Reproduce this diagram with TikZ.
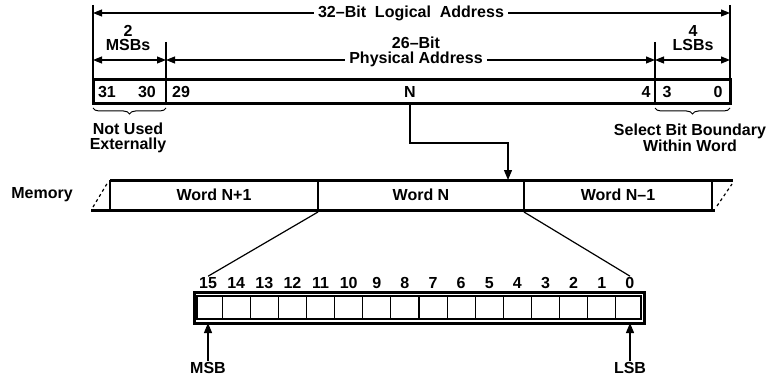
\documentclass[tikz,border=0pt]{standalone}
\usepackage{fontspec}
\setmainfont{Liberation Sans}
\usepackage{tikz}
\usetikzlibrary{positioning,calc,arrows.meta,decorations.pathreplacing}
\tikzstyle{lbl} = [font=\bfseries\fontsize{16}{14.5}\selectfont, inner sep=1pt, align=center]
\tikzstyle{heavy} = [line width=3pt]
\tikzstyle{connector} = [line width=1.2pt]
\tikzstyle{dimline} = [line width=1.1pt, {Triangle[length=9pt,width=7pt]}-{Triangle[length=9pt,width=7pt]}]
\tikzstyle{pointer} = [line width=1.2pt, -{Triangle[length=10pt,width=8pt]}]
\tikzstyle{brace} = [line width=1pt, decorate, decoration={brace, amplitude=6pt}]

\begin{document}
\begin{tikzpicture}[x=1pt, y=-1pt]
                \useasboundingbox (0,0) rectangle (781,385);

                \draw [heavy] (93,80) rectangle (730,104);
                \draw [connector] (93,5) -- (93,80);
                \draw [connector] (730,5) -- (730,80);
                \draw [connector] (166,42) -- (166,104);
                \draw [connector] (655,42) -- (655,104);

                \node (b31) [lbl] at (107,92) {31};
                \node (b30) [lbl] at (147,92) {30};
                \node (b29) [lbl] at (181,92) {29};
                \node (bN) [lbl] at (410,92) {N};
                \node (b4) [lbl] at (646,92) {4};
                \node (b3) [lbl] at (667,92) {3};
                \node (b0) [lbl] at (718,92) {0};

                \node (logical) [lbl, fill=white, inner xsep=4pt] at (411,13) {32\textendash Bit\ \ Logical\ \ Address};
                \coordinate (logL) at (93,13);
                \coordinate (logR) at (730,13);
                \draw [dimline, {Triangle[length=9pt,width=7pt]}-] (logL) -- (logical);
                \draw [dimline, -{Triangle[length=9pt,width=7pt]}] (logical) -- (logR);

                \node (msbs) [lbl] at (128,38) {2\\MSBs};
                \node (lsbs) [lbl] at (693,38) {4\\LSBs};
                \draw [dimline] (93,60) -- (166,60);
                \draw [dimline] (655,60) -- (730,60);

                \node (phys) [lbl, fill=white, inner xsep=4pt] at (416,52) {26\textendash Bit\\Physical Address};
                \coordinate (physL) at (166,60);
                \coordinate (physR) at (655,60);
                \draw [dimline, {Triangle[length=9pt,width=7pt]}-] (physL) -- (physL -| phys.west);
                \draw [dimline, -{Triangle[length=9pt,width=7pt]}] (physR -| phys.east) -- (physR);

                \draw [brace] (166,108) -- (93,108);
                \draw [brace] (730,108) -- (655,108);
                \node (unused) [lbl] at (128,138) {Not Used\\Externally};
                \node (select) [lbl] at (690,138) {Select Bit Boundary\\Within Word};

                \node (memory) [lbl] at (42,195) {Memory};
                \draw [heavy] (110,180) -- (733,180);
                \draw [heavy] (91,210) -- (715,210);
                \draw [connector, dashed] (93,207) -- (108,182);
                \draw [connector, dashed] (717,206) -- (732,184);
                \foreach \x in {110,318,524,712}
                    \draw [connector] (\x,180) -- (\x,210);
                \node (wordA) [lbl] at (214,195) {Word N+1};
                \node (wordB) [lbl] at (421,195) {Word N};
                \node (wordC) [lbl] at (618,195) {Word N\textendash 1};

                \coordinate (nOut) at (410,104);
                \coordinate (memIn) at (508,180);
                \draw [pointer] (nOut) -- ++(0,39) -| (memIn);

                \draw [heavy] (194,292) rectangle (644,323);
                \draw [connector] (197,296) rectangle (641,319);
                \foreach \i in {1,...,15}
                    \draw [connector] ({194+28.125*\i},296) -- ({194+28.125*\i},319);
                \foreach \b in {0,...,15}
                    \node (bit\b) [lbl] at ({194+28.125*(15.5-\b)},283) {\b};

                \draw [connector] (318,212) -- (bit15.north);
                \draw [connector] (524,212) -- (bit0.north);

                \node (msb) [lbl] at (208,368) {MSB};
                \node (lsb) [lbl] at (630,368) {LSB};
                \coordinate (msbTip) at (208,323);
                \coordinate (lsbTip) at (630,323);
                \draw [pointer] (msb) -- (msbTip);
                \draw [pointer] (lsb) -- (lsbTip);
            \end{tikzpicture}
\end{document}
